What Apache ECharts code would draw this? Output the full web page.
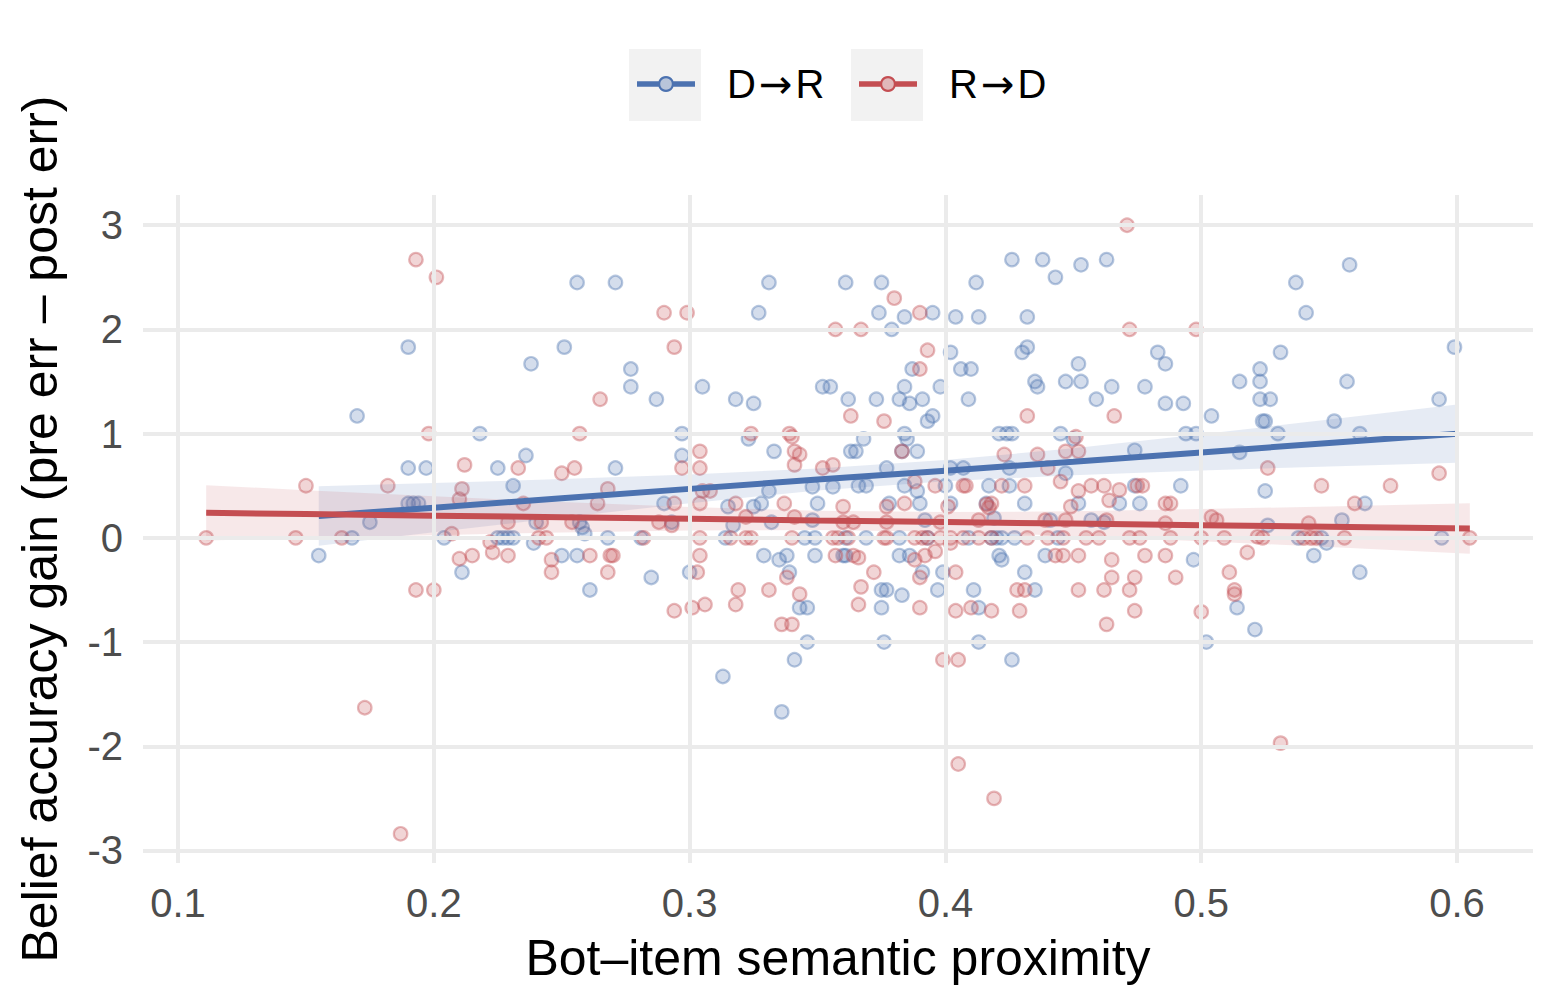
<!DOCTYPE html>
<html><head><meta charset="utf-8">
<script src="https://cdn.jsdelivr.net/npm/echarts@6/dist/echarts.min.js"></script>
<style>html,body{margin:0;padding:0;background:#fff;}#c{width:1558px;height:985px;}</style>
</head><body><div id="c"></div>
<script>
const xTicks = [0.1, 0.2, 0.3, 0.4, 0.5, 0.6];
const yTicks = [-3, -2, -1, 0, 1, 2, 3];
const seriesNames = ['D→R', 'R→D'];

const drPoints = [[0.155,-0.17],[0.168,0],[0.170,1.17],[0.175,0.15],[0.190,1.83],[0.190,0.67],[0.190,0.33],[0.192,0.33],[0.194,0.33],[0.197,0.67],[0.204,0],[0.211,-0.33],[0.218,1.0],[0.225,0.67],[0.225,0],[0.227,0],[0.229,0],[0.231,0],[0.231,0.5],[0.236,0.79],[0.238,1.67],[0.239,-0.05],[0.240,0.15],[0.251,1.83],[0.250,-0.17],[0.256,2.45],[0.256,-0.17],[0.257,0.15],[0.258,0.1],[0.259,0.04],[0.261,-0.5],[0.268,0],[0.271,0.67],[0.271,2.45],[0.277,1.62],[0.277,1.45],[0.281,0],[0.285,-0.38],[0.287,1.33],[0.290,0.33],[0.293,0.15],[0.297,1.0],[0.297,0.79],[0.300,-0.33],[0.305,1.45],[0.314,0],[0.315,0.3],[0.317,0.12],[0.313,-1.33],[0.318,1.33],[0.323,0.95],[0.325,1.29],[0.325,0.3],[0.327,2.16],[0.328,0.33],[0.329,-0.17],[0.331,2.45],[0.331,0.45],[0.332,0.15],[0.333,0.83],[0.335,-0.21],[0.336,-1.67],[0.338,-0.17],[0.339,-0.33],[0.341,-1.17],[0.343,-0.67],[0.346,-0.67],[0.346,-1.0],[0.345,0],[0.349,0],[0.348,0.17],[0.348,0.49],[0.350,0.33],[0.349,-0.17],[0.352,1.45],[0.355,1.45],[0.356,0.49],[0.360,-0.17],[0.361,2.45],[0.362,1.33],[0.363,0.83],[0.365,0.83],[0.361,0],[0.361,-0.17],[0.366,0.5],[0.369,0.5],[0.368,0.95],[0.369,0],[0.373,1.33],[0.374,2.16],[0.375,2.45],[0.375,-0.5],[0.377,-0.5],[0.375,-0.67],[0.376,-1.0],[0.377,0.67],[0.378,0.33],[0.379,2.0],[0.382,1.33],[0.382,0],[0.382,-0.17],[0.383,-0.55],[0.383,0.83],[0.384,2.12],[0.384,1.0],[0.384,1.45],[0.384,0.5],[0.385,0.95],[0.386,1.29],[0.386,-0.17],[0.387,1.62],[0.389,0.83],[0.389,0.45],[0.390,0.33],[0.391,1.33],[0.391,-0.33],[0.392,0.17],[0.393,0],[0.393,1.12],[0.395,1.17],[0.395,2.16],[0.397,-0.5],[0.398,1.45],[0.399,-0.33],[0.400,0.5],[0.402,1.78],[0.402,0.67],[0.402,0.33],[0.404,2.12],[0.406,1.62],[0.407,0.67],[0.409,1.33],[0.409,0],[0.410,1.62],[0.411,-0.5],[0.412,2.45],[0.413,2.12],[0.413,-0.67],[0.413,-1.0],[0.416,0.33],[0.417,0.5],[0.418,0],[0.420,0],[0.422,0],[0.419,0.19],[0.421,1.0],[0.421,-0.17],[0.422,-0.21],[0.424,1.0],[0.426,1.0],[0.425,0.5],[0.425,0.67],[0.426,2.67],[0.426,-1.17],[0.427,0],[0.430,1.78],[0.431,0.33],[0.431,-0.33],[0.432,2.12],[0.432,1.83],[0.435,-0.5],[0.435,1.5],[0.436,1.45],[0.438,2.67],[0.439,-0.17],[0.441,0.17],[0.443,2.5],[0.444,0],[0.445,1.0],[0.447,0.62],[0.447,1.5],[0.450,0.95],[0.452,1.67],[0.452,0.33],[0.453,2.62],[0.453,1.5],[0.457,0.17],[0.459,1.33],[0.462,0.15],[0.463,2.67],[0.465,1.45],[0.468,0.33],[0.474,0.84],[0.474,0.5],[0.476,0.33],[0.478,1.45],[0.483,1.78],[0.486,1.67],[0.486,1.29],[0.492,0.5],[0.493,1.29],[0.494,1.0],[0.497,-0.21],[0.498,1.0],[0.502,-1.0],[0.504,1.17],[0.515,0.82],[0.514,-0.67],[0.515,1.5],[0.521,-0.88],[0.523,1.62],[0.523,1.5],[0.524,1.12],[0.525,1.12],[0.523,1.33],[0.527,1.33],[0.525,0.45],[0.526,0.12],[0.530,1.0],[0.531,1.78],[0.537,2.45],[0.538,0],[0.541,2.16],[0.544,-0.17],[0.547,0],[0.549,-0.05],[0.552,1.12],[0.555,0.17],[0.557,1.5],[0.558,2.62],[0.562,1.0],[0.562,-0.33],[0.564,0.33],[0.593,1.33],[0.594,0],[0.599,1.83]];

const rdPoints = [[0.111,0],[0.146,0],[0.150,0.5],[0.164,0],[0.173,-1.63],[0.182,0.5],[0.187,-2.84],[0.193,-0.5],[0.193,2.67],[0.198,1.0],[0.200,-0.5],[0.201,2.5],[0.207,0.04],[0.210,0.37],[0.211,0.47],[0.210,-0.2],[0.212,0.7],[0.215,-0.17],[0.222,-0.04],[0.223,-0.14],[0.229,0.15],[0.229,-0.17],[0.233,0.67],[0.235,0.33],[0.241,0],[0.242,0.15],[0.244,0],[0.246,-0.21],[0.246,-0.33],[0.250,0.62],[0.254,0.15],[0.255,0.67],[0.257,1.0],[0.261,-0.17],[0.264,0.33],[0.265,1.33],[0.268,-0.33],[0.268,0.47],[0.269,-0.17],[0.270,-0.17],[0.282,0],[0.288,0.15],[0.290,2.16],[0.293,0.12],[0.294,0.33],[0.294,-0.7],[0.294,1.83],[0.297,0.67],[0.299,2.16],[0.301,-0.67],[0.303,-0.33],[0.304,0.67],[0.304,0.33],[0.304,0],[0.304,-0.17],[0.304,0.83],[0.305,0.45],[0.306,-0.64],[0.308,0.45],[0.316,0],[0.318,-0.64],[0.318,0.33],[0.319,-0.5],[0.322,0.2],[0.322,0],[0.324,0],[0.324,1.0],[0.331,-0.5],[0.336,-0.83],[0.340,-0.83],[0.337,0.33],[0.338,-0.38],[0.339,1.0],[0.340,0.97],[0.340,0],[0.341,0.83],[0.341,0.2],[0.341,0.7],[0.343,0.8],[0.343,-0.54],[0.352,0.67],[0.356,0.7],[0.356,0],[0.358,0],[0.362,0],[0.357,-0.17],[0.357,2.0],[0.360,0.3],[0.360,0.15],[0.363,1.17],[0.364,0.15],[0.364,-0.17],[0.366,-0.19],[0.366,-0.64],[0.367,2.0],[0.367,-0.47],[0.372,-0.33],[0.376,1.12],[0.376,0],[0.377,0],[0.377,0.3],[0.377,0.15],[0.380,2.3],[0.383,0.83],[0.384,0.33],[0.388,0.54],[0.388,-0.21],[0.388,0],[0.391,0],[0.393,0],[0.390,2.16],[0.390,1.62],[0.390,-0.38],[0.390,-0.67],[0.392,-0.17],[0.393,1.8],[0.396,-0.13],[0.396,0.5],[0.398,0.15],[0.398,0],[0.399,-1.17],[0.401,0.3],[0.402,0],[0.402,-0.05],[0.404,-0.33],[0.404,-0.7],[0.405,-1.17],[0.405,-2.17],[0.407,0.5],[0.408,0.5],[0.407,0],[0.410,-0.67],[0.413,0.17],[0.413,0],[0.416,0.32],[0.417,0.29],[0.418,0.33],[0.418,-0.7],[0.418,0],[0.419,-2.5],[0.422,0.5],[0.423,0.8],[0.428,-0.5],[0.431,-0.5],[0.429,-0.7],[0.431,0.5],[0.432,0],[0.432,1.17],[0.436,0.8],[0.439,0.17],[0.440,0.67],[0.440,0],[0.443,-0.17],[0.446,-0.17],[0.445,0.54],[0.446,0],[0.447,0.83],[0.452,0.83],[0.447,0.17],[0.449,0.3],[0.451,0.97],[0.452,-0.5],[0.452,0.45],[0.452,-0.17],[0.455,0],[0.457,0.5],[0.460,0],[0.462,0.5],[0.462,-0.5],[0.463,0.17],[0.463,-0.83],[0.464,0.36],[0.465,-0.38],[0.465,-0.21],[0.466,1.17],[0.468,0.46],[0.471,3.0],[0.472,2.0],[0.472,-0.5],[0.472,0],[0.474,-0.38],[0.474,-0.7],[0.475,0.5],[0.477,0.5],[0.476,0],[0.478,-0.17],[0.486,0.33],[0.488,0.33],[0.486,0.14],[0.486,-0.17],[0.488,0],[0.490,-0.38],[0.498,2.0],[0.500,-0.71],[0.500,0],[0.504,0.2],[0.506,0.17],[0.509,0],[0.511,-0.33],[0.513,-0.5],[0.513,-0.54],[0.518,-0.14],[0.522,0.01],[0.524,0],[0.526,0.67],[0.531,-1.97],[0.540,0],[0.543,0],[0.545,0],[0.542,0.14],[0.547,0.5],[0.556,0],[0.560,0.33],[0.574,0.5],[0.593,0.62],[0.605,0]];

// fitted lines and 95% bands
const drFitX = [0.155, 0.2, 0.25, 0.3, 0.35, 0.4, 0.45, 0.5, 0.55, 0.6];
const drFitY = [0.21, 0.29, 0.38, 0.47, 0.56, 0.645, 0.73, 0.82, 0.91, 1.0];
const drLo = [-0.075, 0.054, 0.196, 0.332, 0.454, 0.544, 0.60, 0.646, 0.685, 0.72];
const drHi = [0.495, 0.526, 0.564, 0.608, 0.666, 0.746, 0.86, 0.994, 1.135, 1.28];

const rdFitX = [0.111, 0.15, 0.2, 0.25, 0.3, 0.35, 0.4, 0.45, 0.5, 0.55, 0.605];
const rdFitY = [0.24, 0.228, 0.213, 0.198, 0.183, 0.167, 0.152, 0.137, 0.122, 0.107, 0.09];
const rdLo = [-0.025, -0.002, 0.026, 0.052, 0.071, 0.075, 0.058, 0.019, -0.032, -0.088, -0.153];
const rdHi = [0.505, 0.458, 0.40, 0.344, 0.295, 0.259, 0.247, 0.255, 0.276, 0.302, 0.333];

const BLUE = '#4C72B0', RED = '#C44E52';
const FONT = 'Liberation Sans';

function scatter(name, pts, rgb) {
  return {
    type: 'scatter', name: name, data: pts, z: 2, symbol: 'circle', symbolSize: 13.5,
    itemStyle: { color: 'rgba(' + rgb + ',0.3)', borderColor: 'rgba(' + rgb + ',0.5)', borderWidth: 2.2 },
    emphasis: { disabled: true }, silent: true
  };
}
function band(name, xs, lo, hi, fill) {
  return {
    type: 'custom', name: name, z: 3, silent: true,
    data: xs.map((x, i) => [x, lo[i], hi[i]]),
    encode: { x: 0, y: [1, 2] },
    renderItem: function (params, api) {
      if (params.dataIndex !== 0) return null;
      const top = xs.map((x, i) => api.coord([x, hi[i]]));
      const bot = xs.map((x, i) => api.coord([x, lo[i]])).reverse();
      return { type: 'polygon', shape: { points: top.concat(bot) }, style: { fill: fill } };
    }
  };
}
function fit(name, xs, ys, color) {
  return {
    type: 'line', name: name, z: 4, silent: true, showSymbol: false, symbol: 'none',
    data: xs.map((x, i) => [x, ys[i]]),
    lineStyle: { color: color, width: 6 }, itemStyle: { color: color }
  };
}
const iconPath = 'path://M0 5.3H21.5V10.7H0Z M36.5 5.3H58V10.7H36.5Z M29 0A8 8 0 1 1 28.99 0Z M29 2.2A5.8 5.8 0 1 0 29.01 2.2Z';
function legendFor(name, color, left) {
  return {
    data: [{ name: name, icon: iconPath, itemStyle: { color: color, borderWidth: 0, opacity: 1 } }],
    left: left, top: 64, padding: 0, itemWidth: 58, itemHeight: 16, selectedMode: false,
    formatter: n => '{a|' + n.charAt(0) + '}{b|→}{a|' + n.charAt(2) + '}',
    textStyle: {
      fontSize: 40, color: '#000', fontFamily: FONT, padding: [0, 0, 0, 27],
      rich: {
        a: { fontSize: 40, color: '#000', fontFamily: FONT },
        b: { fontSize: 40, color: '#000', fontFamily: 'DejaVu Sans', padding: [0, 3, 0, 3] }
      }
    }
  };
}

const chart = echarts.init(document.getElementById('c'), null, { renderer: 'svg' });
chart.setOption({
  animation: false,
  backgroundColor: '#fff',
  textStyle: { fontFamily: FONT },
  graphic: [
    { type: 'rect', z: 0, silent: true, shape: { x: 629, y: 49, width: 72, height: 72 }, style: { fill: '#f2f2f2' } },
    { type: 'rect', z: 0, silent: true, shape: { x: 851, y: 49, width: 72, height: 72 }, style: { fill: '#f2f2f2' } },
    { type: 'circle', z: 1, silent: true, shape: { cx: 666, cy: 84, r: 6.5 }, style: { fill: 'rgba(76,114,176,0.35)' } },
    { type: 'circle', z: 1, silent: true, shape: { cx: 888, cy: 84, r: 6.5 }, style: { fill: 'rgba(196,78,82,0.35)' } }
  ],
  legend: [legendFor(seriesNames[0], BLUE, 637), legendFor(seriesNames[1], RED, 859)],
  grid: { left: 143, right: 25, top: 195, bottom: 122, containLabel: false, outerBoundsMode: 'none' },
  xAxis: {
    type: 'value', min: 0.0863, max: 0.6297,
    name: 'Bot–item semantic proximity', nameLocation: 'middle', nameGap: 70,
    nameTextStyle: { fontSize: 50, lineHeight: 50, color: '#000', fontFamily: FONT },
    axisLine: { show: false }, axisTick: { show: false }, splitLine: { show: false },
    axisLabel: { customValues: xTicks, fontSize: 40, color: '#4d4d4d', margin: 20, formatter: v => v.toFixed(1) }
  },
  yAxis: {
    type: 'value', min: -3.12, max: 3.29,
    name: 'Belief accuracy gain (pre err – post err)', nameLocation: 'middle', nameGap: 78, nameRotate: 90,
    nameTextStyle: { fontSize: 50, color: '#000', fontFamily: FONT },
    axisLine: { show: false }, axisTick: { show: false }, splitLine: { show: false },
    axisLabel: { customValues: yTicks, fontSize: 40, color: '#4d4d4d', margin: 20, formatter: v => String(v) }
  },
  series: [
    {
      type: 'line', name: 'grid', data: [], z: 1, silent: true,
      markLine: {
        silent: true, symbol: ['none', 'none'], label: { show: false }, animation: false,
        lineStyle: { color: '#ebebeb', width: 4, type: 'solid' },
        emphasis: { disabled: true },
        data: xTicks.map(v => ({ xAxis: v })).concat(yTicks.map(v => ({ yAxis: v })))
      }
    },
    scatter(seriesNames[0], drPoints, '76,114,176'),
    scatter(seriesNames[1], rdPoints, '196,78,82'),
    band(seriesNames[0], drFitX, drLo, drHi, 'rgba(76,114,176,0.14)'),
    fit(seriesNames[0], drFitX, drFitY, BLUE),
    band(seriesNames[1], rdFitX, rdLo, rdHi, 'rgba(196,78,82,0.13)'),
    fit(seriesNames[1], rdFitX, rdFitY, RED)
  ]
});
</script></body></html>
